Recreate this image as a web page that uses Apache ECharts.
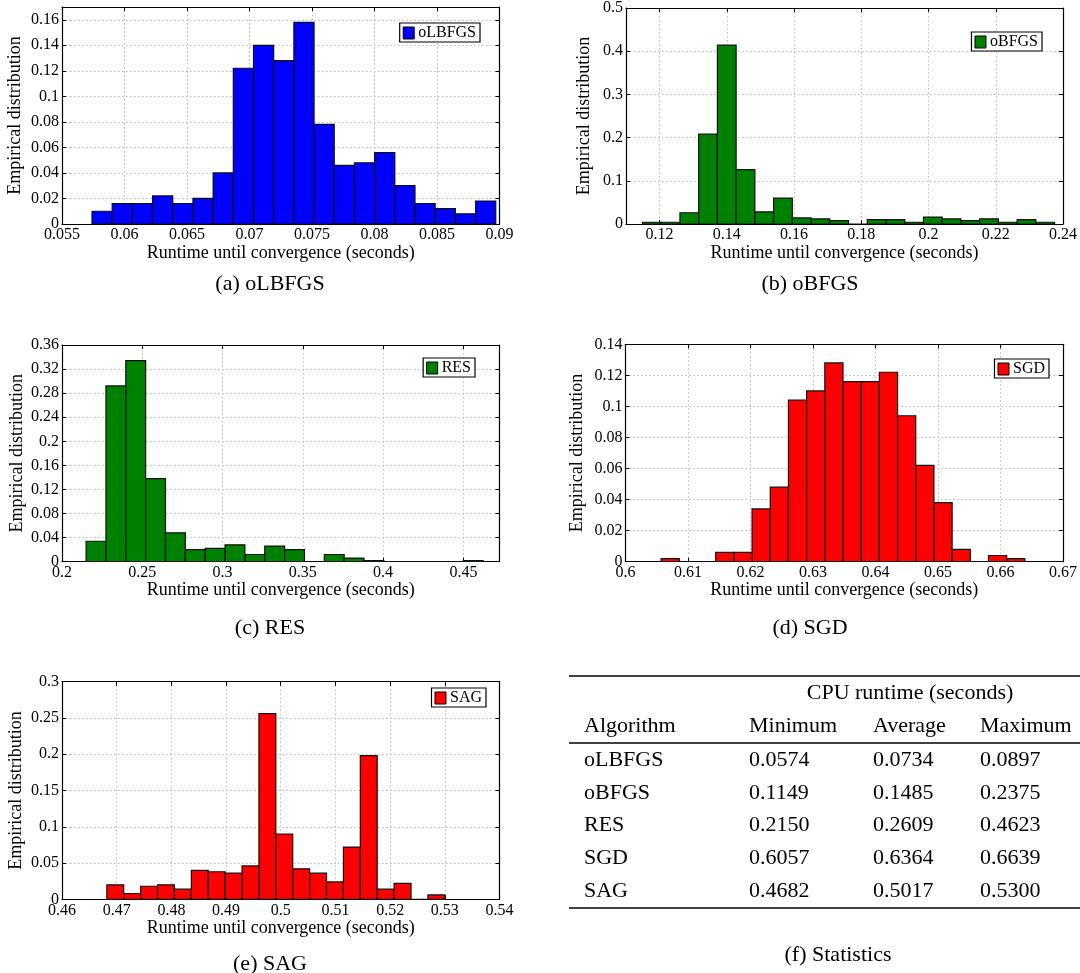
<!DOCTYPE html>
<html>
<head>
<meta charset="utf-8">
<script src="https://cdn.jsdelivr.net/npm/echarts@6/dist/echarts.min.js"></script>
<style>
  html, body { margin: 0; padding: 0; background: #fff; overflow: hidden; }
  #chart { width: 1080px; height: 973px; }
</style>
</head>
<body>
<div id="chart"></div>
<script>
// CPU runtime statistics (seconds)
const algorithms = ['oLBFGS', 'oBFGS', 'RES', 'SGD', 'SAG'];
const minRuntime = [0.0574, 0.1149, 0.2150, 0.6057, 0.4682];
const avgRuntime = [0.0734, 0.1485, 0.2609, 0.6364, 0.5017];
const maxRuntime = [0.0897, 0.2375, 0.4623, 0.6639, 0.5300];

// Empirical distribution per histogram bin (bins span min..max runtime)
const distOLBFGS = [0.010, 0.016, 0.016, 0.022, 0.016, 0.020, 0.040, 0.122, 0.140, 0.128,
                    0.158, 0.078, 0.046, 0.048, 0.056, 0.030, 0.016, 0.012, 0.008, 0.018];
const distOBFGS  = [0.004, 0.004, 0.026, 0.208, 0.414, 0.126, 0.028, 0.060, 0.014, 0.012, 0.008,
                    0.000, 0.010, 0.010, 0.004, 0.016, 0.012, 0.008, 0.012, 0.004, 0.010, 0.004];
const distRES    = [0.034, 0.292, 0.334, 0.138, 0.048, 0.020, 0.022, 0.028, 0.012, 0.026,
                    0.020, 0.000, 0.012, 0.006, 0.002, 0.000, 0.000, 0.000, 0.000, 0.002];
const distSGD    = [0.002, 0.000, 0.000, 0.006, 0.006, 0.034, 0.048, 0.104, 0.110, 0.128,
                    0.116, 0.116, 0.122, 0.094, 0.062, 0.038, 0.008, 0.000, 0.004, 0.002];
const distSAG    = [0.020, 0.008, 0.018, 0.020, 0.014, 0.040, 0.038, 0.036, 0.046, 0.256,
                    0.090, 0.042, 0.036, 0.024, 0.072, 0.198, 0.014, 0.022, 0.000, 0.006];

// Tick values
const xTicksOLBFGS = [0.055, 0.06, 0.065, 0.07, 0.075, 0.08, 0.085, 0.09];
const yTicksOLBFGS = [0, 0.02, 0.04, 0.06, 0.08, 0.1, 0.12, 0.14, 0.16];
const xTicksOBFGS  = [0.12, 0.14, 0.16, 0.18, 0.2, 0.22, 0.24];
const yTicksOBFGS  = [0, 0.1, 0.2, 0.3, 0.4, 0.5];
const xTicksRES    = [0.2, 0.25, 0.3, 0.35, 0.4, 0.45];
const yTicksRES    = [0, 0.04, 0.08, 0.12, 0.16, 0.2, 0.24, 0.28, 0.32, 0.36];
const xTicksSGD    = [0.6, 0.61, 0.62, 0.63, 0.64, 0.65, 0.66, 0.67];
const yTicksSGD    = [0, 0.02, 0.04, 0.06, 0.08, 0.1, 0.12, 0.14];
const xTicksSAG    = [0.46, 0.47, 0.48, 0.49, 0.5, 0.51, 0.52, 0.53, 0.54];
const yTicksSAG    = [0, 0.05, 0.1, 0.15, 0.2, 0.25, 0.3];

const FONT = 'Liberation Serif';
const X_NAME = 'Runtime until convergence (seconds)';
const Y_NAME = 'Empirical distribution';

// Panel layout and styling
const panels = [
  { algo: 0, dist: distOLBFGS, color: '#0000ff', xTicks: xTicksOLBFGS, yTicks: yTicksOLBFGS,
    xRange: [0.055, 0.09], yRange: [0, 0.17], box: [62, 7, 499.5, 224], yNameGap: 38,
    legend: { right: 600, top: 23 }, caption: ['(a) oLBFGS', 270, 284] },
  { algo: 1, dist: distOBFGS, color: '#008000', xTicks: xTicksOBFGS, yTicks: yTicksOBFGS,
    xRange: [0.11, 0.24], yRange: [0, 0.5], box: [626, 7, 1063.6, 224], yNameGap: 33,
    legend: { right: 38, top: 32 }, caption: ['(b) oBFGS', 810, 284] },
  { algo: 2, dist: distRES, color: '#008000', xTicks: xTicksRES, yTicks: yTicksRES,
    xRange: [0.2, 0.4725], yRange: [0, 0.36], box: [62, 345, 499.5, 561.7], yNameGap: 36,
    legend: { right: 605, top: 358 }, caption: ['(c) RES', 270, 628] },
  { algo: 3, dist: distSGD, color: '#ff0000', xTicks: xTicksSGD, yTicks: yTicksSGD,
    xRange: [0.6, 0.67], yRange: [0, 0.14], box: [625.5, 344.3, 1063.6, 561.7], yNameGap: 39,
    legend: { right: 31, top: 359 }, caption: ['(d) SGD', 810, 628] },
  { algo: 4, dist: distSAG, color: '#ff0000', xTicks: xTicksSAG, yTicks: yTicksSAG,
    xRange: [0.46, 0.54], yRange: [0, 0.3], box: [62, 681.7, 499.5, 899.3], yNameGap: 37,
    legend: { right: 594, top: 688 }, caption: ['(e) SAG', 270, 964] }
];

const fmt = v => String(parseFloat(Number(v).toFixed(6)));
const gridLine = { show: true, lineStyle: { type: [1.5, 2.5], color: '#bcbcbc', width: 1 } };
const frame = { show: true, onZero: false, lineStyle: { color: '#000', width: 1.2 } };

function binItems(dist, lo, hi) {
  const w = (hi - lo) / dist.length;
  return dist.map((h, i) => [lo + i * w, lo + (i + 1) * w, h]);
}

function makeRenderer(color) {
  return function (params, api) {
    const p0 = api.coord([api.value(0), 0]);
    const p1 = api.coord([api.value(1), api.value(2)]);
    return {
      type: 'rect',
      shape: { x: p0[0], y: p1[1], width: p1[0] - p0[0], height: p0[1] - p1[1] },
      style: { fill: color, stroke: '#111', lineWidth: 1.2 }
    };
  };
}

const grid = [], xAxis = [], yAxis = [], series = [], legend = [], graphic = [];

panels.forEach((p, i) => {
  const [l, t, r, b] = p.box;
  const name = algorithms[p.algo];
  grid.push({ left: l, top: t, width: r - l, height: b - t, containLabel: false });

  xAxis.push({
    gridIndex: i, type: 'value', position: 'bottom', min: p.xRange[0], max: p.xRange[1],
    axisLine: frame,
    axisTick: { show: true, inside: true, length: 4, customValues: p.xTicks, lineStyle: { color: '#000' } },
    axisLabel: { show: true, customValues: p.xTicks, formatter: fmt, margin: 3,
                 fontFamily: FONT, fontSize: 16, color: '#000', hideOverlap: false },
    splitLine: gridLine,
    name: X_NAME, nameLocation: 'middle', nameGap: 13,
    nameTextStyle: { fontFamily: FONT, fontSize: 18, color: '#000' }
  });
  xAxis.push({
    gridIndex: i, type: 'value', position: 'top', min: p.xRange[0], max: p.xRange[1],
    axisLine: frame,
    axisTick: { show: true, inside: true, length: 4, customValues: p.xTicks, lineStyle: { color: '#000' } },
    axisLabel: { show: false }, splitLine: { show: false }
  });

  yAxis.push({
    gridIndex: i, type: 'value', position: 'left', min: p.yRange[0], max: p.yRange[1],
    axisLine: frame,
    axisTick: { show: true, inside: true, length: 4, customValues: p.yTicks, lineStyle: { color: '#000' } },
    axisLabel: { show: true, customValues: p.yTicks, formatter: fmt, margin: 3,
                 fontFamily: FONT, fontSize: 16, color: '#000', hideOverlap: false },
    splitLine: gridLine,
    name: Y_NAME, nameLocation: 'middle', nameGap: p.yNameGap, nameRotate: 90,
    nameTextStyle: { fontFamily: FONT, fontSize: 18, color: '#000' }
  });
  yAxis.push({
    gridIndex: i, type: 'value', position: 'right', min: p.yRange[0], max: p.yRange[1],
    axisLine: frame,
    axisTick: { show: true, inside: true, length: 4, customValues: p.yTicks, lineStyle: { color: '#000' } },
    axisLabel: { show: false }, splitLine: { show: false }
  });

  series.push({
    type: 'custom', name: name, xAxisIndex: 2 * i, yAxisIndex: 2 * i,
    itemStyle: { color: p.color }, silent: true, clip: true,
    renderItem: makeRenderer(p.color),
    encode: { x: [0, 1], y: 2 },
    data: binItems(p.dist, minRuntime[p.algo], maxRuntime[p.algo])
  });

  legend.push({
    data: [name], right: p.legend.right, top: p.legend.top, orient: 'vertical',
    icon: 'rect', itemWidth: 11, itemHeight: 12, itemGap: 4, selectedMode: false,
    itemStyle: { borderColor: '#000', borderWidth: 1 },
    backgroundColor: '#fff', borderColor: '#000', borderWidth: 1.2, padding: [2, 4, 1, 3],
    textStyle: { fontFamily: FONT, fontSize: 16, color: '#000', padding: [0, 0, 0, -1] }
  });

  graphic.push({
    type: 'text', x: p.caption[1], y: p.caption[2],
    style: { text: p.caption[0], fontFamily: FONT, fontSize: 22, fill: '#000',
             align: 'center', verticalAlign: 'middle' }
  });
});

// Statistics table (last column runs off the right edge)
const tableFont = { fontFamily: FONT, fontSize: 22, fill: '#000', verticalAlign: 'middle' };
const colX = [584, 749, 873, 980];
const headerY = 726, groupY = 693;
const rowY = [760, 793, 825, 858, 891];
const rule = (y) => ({ type: 'line', shape: { x1: 569, y1: y, x2: 1080, y2: y },
                       style: { stroke: '#000', lineWidth: 1.3 } });
graphic.push(rule(676), rule(743), rule(908));
graphic.push({ type: 'text', x: 910, y: groupY,
  style: Object.assign({ text: 'CPU runtime (seconds)', align: 'center' }, tableFont) });
['Algorithm', 'Minimum', 'Average', 'Maximum'].forEach((h, c) => {
  graphic.push({ type: 'text', x: colX[c], y: headerY,
    style: Object.assign({ text: h, align: 'left' }, tableFont) });
});
algorithms.forEach((a, r) => {
  const cells = [a, minRuntime[r].toFixed(4), avgRuntime[r].toFixed(4), maxRuntime[r].toFixed(4)];
  cells.forEach((txt, c) => {
    graphic.push({ type: 'text', x: colX[c], y: rowY[r],
      style: Object.assign({ text: txt, align: 'left' }, tableFont) });
  });
});
graphic.push({ type: 'text', x: 838, y: 955,
  style: { text: '(f) Statistics', fontFamily: FONT, fontSize: 22, fill: '#000',
           align: 'center', verticalAlign: 'middle' } });

const chart = echarts.init(document.getElementById('chart'), null, { renderer: 'canvas' });
chart.setOption({
  backgroundColor: '#fff',
  animation: false,
  textStyle: { fontFamily: FONT },
  grid, xAxis, yAxis, series, legend, graphic
});
</script>
</body>
</html>
